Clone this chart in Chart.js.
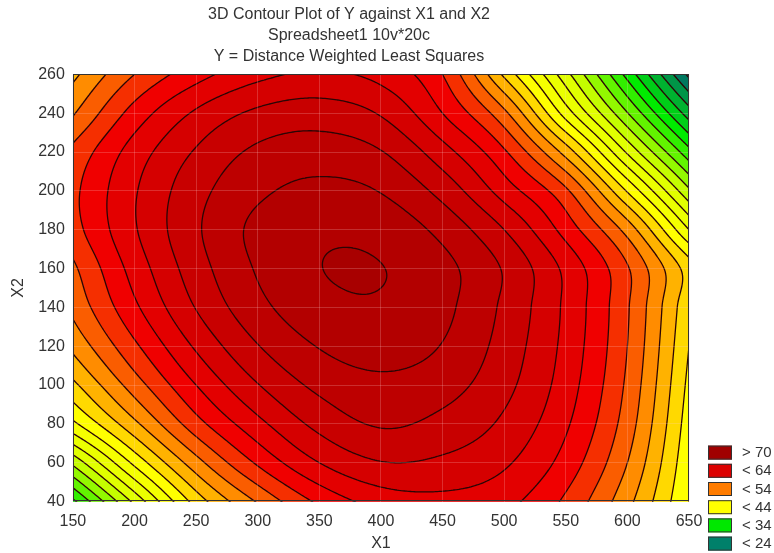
<!DOCTYPE html>
<html><head><meta charset="utf-8">
<script src="https://cdn.jsdelivr.net/npm/chart.js@4.4.1/dist/chart.umd.min.js"></script>
<style>html,body{margin:0;padding:0;background:#fff;}#wrap{width:774px;height:553px;}</style>
</head><body><div id="wrap"><canvas id="c" width="774" height="553"></canvas></div>
<script>
// ---- data ----
const TITLE_LINES = ['3D Contour Plot of Y against X1 and X2', 'Spreadsheet1 10v*20c', 'Y = Distance Weighted Least Squares'];
const X1_GRID = [150, 200, 250, 300, 350, 400, 450, 500, 550, 600, 650];
const X2_GRID = [40, 60, 80, 100, 120, 140, 160, 180, 200, 220, 240, 260];
// Y values at each X2 row, one value per X1 grid column
const Y_AT_X2_40  = [31.5, 40.5, 48.8, 54.2, 58.4, 60.8, 61.4, 60.6, 57.6, 52.6, 46.0];
const Y_AT_X2_60  = [38.5, 46.5, 53.2, 58.3, 62.0, 63.9, 63.6, 62.3, 59.2, 54.0, 46.5];
const Y_AT_X2_80  = [45.5, 51.5, 57.2, 61.4, 64.6, 66.2, 65.4, 63.6, 60.3, 55.0, 47.0];
const Y_AT_X2_100 = [49.5, 55.0, 60.0, 63.9, 66.5, 67.5, 66.8, 64.6, 61.0, 55.6, 47.5];
const Y_AT_X2_120 = [52.5, 57.6, 62.3, 65.9, 68.1, 68.9, 67.9, 65.2, 61.4, 56.0, 48.0];
const Y_AT_X2_140 = [54.5, 59.6, 64.1, 67.4, 69.3, 69.75, 68.5, 65.6, 61.6, 56.2, 48.5];
const Y_AT_X2_160 = [55.6, 60.8, 65.1, 68.2, 69.95, 70.05, 68.6, 65.8, 61.5, 56.2, 49.0];
const Y_AT_X2_180 = [57.2, 61.8, 65.7, 68.5, 69.6, 69.3, 67.4, 64.0, 59.2, 53.2, 44.0];
const Y_AT_X2_200 = [57.5, 61.8, 65.3, 67.6, 68.5, 67.9, 65.3, 61.1, 56.4, 47.8, 38.4];
const Y_AT_X2_220 = [56.5, 60.9, 64.2, 66.4, 67.0, 66.1, 62.8, 58.3, 51.2, 41.7, 32.7];
const Y_AT_X2_240 = [53.8, 58.8, 62.3, 64.4, 65.0, 63.8, 60.0, 54.5, 45.1, 36.1, 27.0];
const Y_AT_X2_260 = [51.5, 56.0, 59.2, 61.4, 62.3, 61.3, 58.0, 49.6, 40.7, 31.3, 21.5];
const CONTOUR_LEVELS = [22, 24, 26, 28, 30, 32, 34, 36, 38, 40, 42, 44, 46, 48, 50, 52, 54, 56, 58, 60, 62, 64, 66, 68, 70];
const LEGEND_LABELS = ['> 70', '< 64', '< 54', '< 44', '< 34', '< 24'];
const LEGEND_COLORS = ['#a00000', '#dc0000', '#ff7c00', '#ffff00', '#00e800', '#00806a'];
const COLOR_STOP_VALUES = [23, 31, 40, 47, 53, 59, 65, 71];
const COLOR_STOP_RGB = [[0,120,95], [0,235,0], [220,255,0], [255,255,0], [255,140,0], [240,0,0], [200,0,0], [168,0,0]];

const Y_ROWS = [Y_AT_X2_40, Y_AT_X2_60, Y_AT_X2_80, Y_AT_X2_100, Y_AT_X2_120, Y_AT_X2_140,
                Y_AT_X2_160, Y_AT_X2_180, Y_AT_X2_200, Y_AT_X2_220, Y_AT_X2_240, Y_AT_X2_260];

// ---- surface sampling (Catmull-Rom through the grid values) ----
function gridVal(i, j) {
  const nx = X1_GRID.length, ny = X2_GRID.length;
  let r;
  if (j < 0) r = Y_ROWS[0].map((v, k) => 2 * v - Y_ROWS[1][k]);
  else if (j > ny - 1) r = Y_ROWS[ny - 1].map((v, k) => 2 * v - Y_ROWS[ny - 2][k]);
  else r = Y_ROWS[j];
  if (i < 0) return 2 * r[0] - r[1];
  if (i > nx - 1) return 2 * r[nx - 1] - r[nx - 2];
  return r[i];
}
function cr(p0, p1, p2, p3, t) {
  return 0.5 * (2 * p1 + (-p0 + p2) * t + (2 * p0 - 5 * p1 + 4 * p2 - p3) * t * t + (-p0 + 3 * p1 - 3 * p2 + p3) * t * t * t);
}
function surface(x1, x2) {
  const dx = X1_GRID[1] - X1_GRID[0], dy = X2_GRID[1] - X2_GRID[0];
  const u = (x1 - X1_GRID[0]) / dx, v = (x2 - X2_GRID[0]) / dy;
  let i = Math.floor(u), j = Math.floor(v);
  i = Math.max(0, Math.min(X1_GRID.length - 2, i));
  j = Math.max(0, Math.min(X2_GRID.length - 2, j));
  const t = u - i, s = v - j;
  const r = [];
  for (let k = -1; k <= 2; k++) {
    r.push(cr(gridVal(i - 1, j + k), gridVal(i, j + k), gridVal(i + 1, j + k), gridVal(i + 2, j + k), t));
  }
  return cr(r[0], r[1], r[2], r[3], s);
}
function bandColor(val) {
  const k = Math.floor(val / 2);
  let mid = 2 * k + 1;
  if (val >= 70) mid = 71;
  const sv = COLOR_STOP_VALUES, sc = COLOR_STOP_RGB;
  if (mid <= sv[0]) return sc[0];
  if (mid >= sv[sv.length - 1]) return sc[sc.length - 1];
  for (let n = 0; n < sv.length - 1; n++) {
    if (mid >= sv[n] && mid <= sv[n + 1]) {
      const f = (mid - sv[n]) / (sv[n + 1] - sv[n]);
      return [0, 1, 2].map(q => Math.round(sc[n][q] + f * (sc[n + 1][q] - sc[n][q])));
    }
  }
  return sc[0];
}

const contourPlugin = {
  id: 'contourFill',
  beforeDatasetsDraw(chart) {
    const ctx = chart.ctx, area = chart.chartArea;
    const xs = chart.scales.x, ys = chart.scales.y;
    const L = Math.round(area.left), T = Math.round(area.top);
    const W = Math.round(area.right) - L, H = Math.round(area.bottom) - T;
    const off = document.createElement('canvas');
    off.width = W; off.height = H;
    const octx = off.getContext('2d');
    const img = octx.createImageData(W, H);
    const colX = [], rowY = [];
    for (let c = 0; c < W; c++) colX.push(xs.getValueForPixel(L + c + 0.5));
    for (let r = 0; r < H; r++) rowY.push(ys.getValueForPixel(T + r + 0.5));
    for (let r = 0; r < H; r++) {
      for (let c = 0; c < W; c++) {
        const col = bandColor(surface(colX[c], rowY[r]));
        const o = (r * W + c) * 4;
        img.data[o] = col[0]; img.data[o + 1] = col[1]; img.data[o + 2] = col[2]; img.data[o + 3] = 255;
      }
    }
    octx.putImageData(img, 0, 0);
    ctx.drawImage(off, L, T);

    // contour lines (marching squares on a fine sampling of the surface)
    const step = 2;
    const px = [], py = [];
    for (let x = L; x < L + W; x += step) px.push(x); px.push(L + W);
    for (let y = T; y < T + H; y += step) py.push(y); py.push(T + H);
    const nc = px.length, nr = py.length;
    const G = new Float64Array(nc * nr);
    const gx = px.map(p => xs.getValueForPixel(p)), gy = py.map(p => ys.getValueForPixel(p));
    for (let r = 0; r < nr; r++) for (let c = 0; c < nc; c++) G[r * nc + c] = surface(gx[c], gy[r]);
    ctx.save();
    ctx.beginPath(); ctx.rect(L, T, W, H); ctx.clip();
    ctx.strokeStyle = '#2a0505';
    ctx.lineWidth = 1.3;
    ctx.lineCap = 'round'; ctx.lineJoin = 'round';
    for (const lev of CONTOUR_LEVELS) {
      ctx.beginPath();
      for (let r = 0; r < nr - 1; r++) {
        for (let c = 0; c < nc - 1; c++) {
          const a = G[r * nc + c], b = G[r * nc + c + 1], d = G[(r + 1) * nc + c], e = G[(r + 1) * nc + c + 1];
          const idx = (a >= lev ? 8 : 0) | (b >= lev ? 4 : 0) | (e >= lev ? 2 : 0) | (d >= lev ? 1 : 0);
          if (idx === 0 || idx === 15) continue;
          const x0 = px[c], x1 = px[c + 1], y0 = py[r], y1 = py[r + 1];
          const top = () => [x0 + (lev - a) / (b - a) * (x1 - x0), y0];
          const right = () => [x1, y0 + (lev - b) / (e - b) * (y1 - y0)];
          const bottom = () => [x0 + (lev - d) / (e - d) * (x1 - x0), y1];
          const left = () => [x0, y0 + (lev - a) / (d - a) * (y1 - y0)];
          const seg = (p, q) => { ctx.moveTo(p[0], p[1]); ctx.lineTo(q[0], q[1]); };
          const center = (a + b + d + e) / 4;
          switch (idx) {
            case 1: case 14: seg(left(), bottom()); break;
            case 2: case 13: seg(bottom(), right()); break;
            case 3: case 12: seg(left(), right()); break;
            case 4: case 11: seg(top(), right()); break;
            case 6: case 9: seg(top(), bottom()); break;
            case 7: case 8: seg(left(), top()); break;
            case 5:
              if (center >= lev) { seg(top(), left()); seg(bottom(), right()); }
              else { seg(top(), right()); seg(left(), bottom()); }
              break;
            case 10:
              if (center >= lev) { seg(top(), right()); seg(left(), bottom()); }
              else { seg(top(), left()); seg(bottom(), right()); }
              break;
          }
        }
      }
      ctx.stroke();
    }
    ctx.restore();
  },
  afterDraw(chart) {
    const ctx = chart.ctx, area = chart.chartArea;
    ctx.save();
    ctx.strokeStyle = '#333';
    ctx.lineWidth = 1;
    ctx.strokeRect(Math.round(area.left) + 0.5, Math.round(area.top) + 0.5, Math.round(area.right - area.left) - 1, Math.round(area.bottom - area.top) - 1);
    // legend
    const bx = area.right + 19, by0 = area.bottom - 56, gap = 18.2;
    ctx.font = '15px "Liberation Sans", Arial, sans-serif';
    ctx.textBaseline = 'middle';
    ctx.textAlign = 'left';
    LEGEND_LABELS.forEach((lab, i) => {
      const y = by0 + i * gap;
      ctx.fillStyle = LEGEND_COLORS[i];
      ctx.fillRect(bx, y, 24, 14);
      ctx.strokeStyle = '#333';
      ctx.strokeRect(bx + 0.5, y + 0.5, 23, 13);
      ctx.fillStyle = '#333';
      ctx.fillText(lab, bx + 34, y + 7.5);
    });
    ctx.restore();
  }
};

const FONT = '"Liberation Sans", Arial, sans-serif';
new Chart(document.getElementById('c'), {
  type: 'scatter',
  data: { datasets: [{ data: [], showLine: false }] },
  options: {
    responsive: false,
    animation: false,
    devicePixelRatio: 1,
    layout: { padding: { top: 4, right: 85, bottom: 0, left: 9 } },
    plugins: {
      legend: { display: false },
      tooltip: { enabled: false },
      title: {
        display: true, text: TITLE_LINES, color: '#333',
        font: { family: FONT, size: 16, weight: 'normal', lineHeight: 1.32 },
        padding: { top: 0, bottom: 7 }
      }
    },
    scales: {
      x: {
        type: 'linear', min: 150, max: 650,
        ticks: { stepSize: 50, color: '#333', font: { family: FONT, size: 16 }, padding: 10 },
        grid: { color: 'rgba(255,210,210,0.22)', z: 1, drawTicks: false },
        border: { display: false },
        title: { display: true, text: 'X1', color: '#333', font: { family: FONT, size: 16 }, padding: { top: -7, bottom: 0 } }
      },
      y: {
        type: 'linear', min: 40, max: 260,
        ticks: { stepSize: 20, color: '#333', font: { family: FONT, size: 16 }, padding: 8 },
        grid: { color: 'rgba(255,210,210,0.22)', z: 1, drawTicks: false },
        border: { display: false },
        title: { display: true, text: 'X2', color: '#333', font: { family: FONT, size: 16 }, padding: { top: 0, bottom: 2 } }
      }
    }
  },
  plugins: [contourPlugin]
});
</script></body></html>
